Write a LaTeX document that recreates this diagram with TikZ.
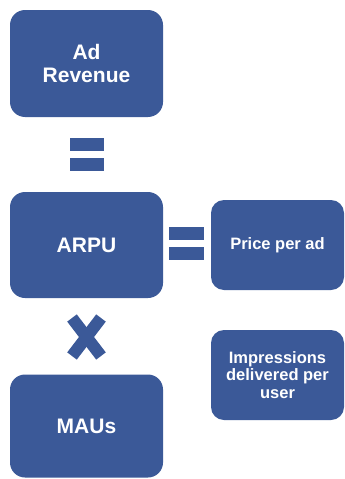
\documentclass[tikz,border=0pt]{standalone}
\usepackage{fontspec}
\setmainfont{Liberation Sans}
\definecolor{boxblue}{RGB}{59,89,152}
\begin{document}
\begin{tikzpicture}[x=1pt,y=-1pt,
  bigbox/.style={fill=boxblue, rounded corners=15pt, minimum width=153pt, text=white, font=\bfseries\fontsize{21}{23}\selectfont, align=center, inner sep=0pt},
  smallbox/.style={fill=boxblue, rounded corners=13pt, minimum width=133pt, minimum height=90pt, text=white, font=\bfseries\fontsize{16.5}{17.5}\selectfont, align=center, inner sep=0pt},
  bar/.style={fill=boxblue},
  xbar/.style={draw=boxblue, line width=12pt, line cap=butt}]
\useasboundingbox (0,0) rectangle (345,479);
\node[bigbox, minimum height=107pt] (rev) at (86.5,63.5) {Ad\\Revenue};
\node[bigbox, minimum height=106pt] (arpu) at (86.5,245) {ARPU};
\node[bigbox, minimum height=103pt] (mau) at (86.5,426) {MAUs};
\node[smallbox] (price) at (277.5,245) {Price per ad};
\node[smallbox] (imp) at (277.5,375) {Impressions\\delivered per\\user};
% equals between Ad Revenue and ARPU
\fill[bar] (70,138) rectangle (104,151);
\fill[bar] (70,158) rectangle (104,171);
% equals between ARPU and Price per ad
\fill[bar] (169,227) rectangle (204,240);
\fill[bar] (169,247) rectangle (204,260);
% multiply sign
\draw[xbar] (72,318) -- (101,356);
\draw[xbar] (101,318) -- (72,356);
\end{tikzpicture}
\end{document}
